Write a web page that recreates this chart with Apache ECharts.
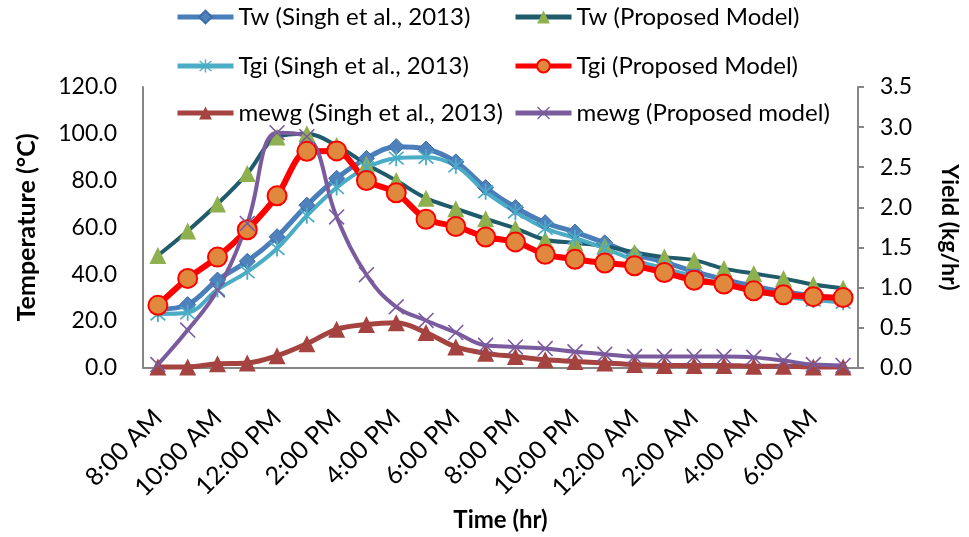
<!DOCTYPE html>
<html>
<head>
<meta charset="utf-8">
<script src="https://cdn.jsdelivr.net/npm/echarts@6/dist/echarts.min.js"></script>
<style>
html,body{margin:0;padding:0;background:#fff;}
#chart{width:969px;height:537px;}
</style>
</head>
<body>
<div id="chart"></div>
<script>
var categories = ["8:00 AM","9:00 AM","10:00 AM","11:00 AM","12:00 PM","1:00 PM","2:00 PM","3:00 PM","4:00 PM","5:00 PM","6:00 PM","7:00 PM","8:00 PM","9:00 PM","10:00 PM","11:00 PM","12:00 AM","1:00 AM","2:00 AM","3:00 AM","4:00 AM","5:00 AM","6:00 AM","7:00 AM"];

var twSingh = [25, 27, 37.5, 45.5, 56, 69.5, 81, 89.5, 94.5, 93.5, 88, 77, 68.5, 62, 58, 53.4, 48.5, 45.2, 41.1, 37.8, 34.9, 32.5, 30.8, 29.6];
var twProposed = [48, 58.5, 70, 83, 98.6, 100, 95, 87, 80, 72.5, 68, 63.7, 59.6, 54.7, 53.4, 52, 49.3, 47.3, 46, 42.4, 40.3, 38.2, 35.6, 34];
var tgiSingh = [23, 23.5, 33.5, 41, 51, 65, 77, 85.5, 89.6, 90, 86.3, 75.2, 66.6, 59.6, 55.5, 51, 46, 42.5, 39, 35.5, 32.5, 30.5, 29, 28];
var tgiProposed = [26.7, 38.2, 47.3, 59, 73.5, 92.5, 92.7, 80, 74.8, 63.5, 60.4, 55.9, 53.8, 48.5, 46.4, 44.8, 43.6, 40.7, 37.4, 35.8, 32.9, 31.2, 30.4, 30];
var mewgSingh = [0.01, 0.01, 0.05, 0.06, 0.15, 0.3, 0.48, 0.54, 0.56, 0.44, 0.26, 0.18, 0.14, 0.10, 0.08, 0.06, 0.04, 0.03, 0.03, 0.03, 0.02, 0.02, 0.01, 0.01];
var mewgProposed = [0.04, 0.47, 0.97, 1.8, 2.93, 2.88, 1.88, 1.16, 0.76, 0.59, 0.44, 0.28, 0.26, 0.24, 0.2, 0.17, 0.14, 0.14, 0.14, 0.14, 0.13, 0.09, 0.04, 0.03];

var seriesNames = ["Tw (Singh et al., 2013)", "Tw (Proposed Model)", "Tgi (Singh et al., 2013)", "Tgi (Proposed Model)", "mewg (Singh et al., 2013)", "mewg (Proposed model)"];
var tempTicks = {min: 0, max: 120, interval: 20};
var yieldTicks = {min: 0, max: 3.5, interval: 0.5};

var FONT = 'Lato';
var asterisk = 'path://M9,0H11V20H9Z M1.3,2.7L2.7,1.3L18.7,17.3L17.3,18.7Z M17.3,1.3L18.7,2.7L2.7,18.7L1.3,17.3Z';
var crossX = 'path://M0,1.4L1.4,0L20,18.6L18.6,20Z M18.6,0L20,1.4L1.4,20L0,18.6Z';

var chart = echarts.init(document.getElementById('chart'));

function legendAt(name, left, top) {
  return {
    data: [name], left: left, top: top, padding: 0,
    itemWidth: 56, itemHeight: 16,
    lineStyle: {width: 5},
    textStyle: {fontFamily: FONT, fontSize: 24, color: '#000'},
    selectedMode: false
  };
}

var option = {
  backgroundColor: '#fff',
  animation: false,
  textStyle: {fontFamily: FONT},
  legend: [
    legendAt(seriesNames[0], 175, 5),
    legendAt(seriesNames[1], 513, 5),
    legendAt(seriesNames[2], 175, 54),
    legendAt(seriesNames[3], 513, 54),
    legendAt(seriesNames[4], 175, 101),
    legendAt(seriesNames[5], 513, 101)
  ],
  grid: {left: 143, right: 100, top: 87, bottom: 156, containLabel: false},
  xAxis: {
    type: 'category',
    data: categories,
    boundaryGap: true,
    axisLine: {lineStyle: {color: '#868686', width: 2}},
    axisTick: {show: false},
    axisLabel: {interval: 1, rotate: 45, margin: 46, fontFamily: FONT, fontSize: 25, color: '#000'},
    name: 'Time (hr)',
    nameLocation: 'middle',
    nameGap: 139,
    nameTextStyle: {fontFamily: FONT, fontSize: 24, fontWeight: 'bold', color: '#000'}
  },
  yAxis: [
    {
      type: 'value', position: 'left',
      min: tempTicks.min, max: tempTicks.max, interval: tempTicks.interval,
      splitLine: {show: false},
      axisLine: {show: true, lineStyle: {color: '#868686', width: 2}},
      axisTick: {show: false},
      axisLabel: {margin: 26, fontFamily: FONT, fontSize: 23, color: '#000', formatter: function(v){return v.toFixed(1);}},
      name: 'Temperature (°C)',
      nameLocation: 'middle',
      nameGap: 104,
      nameTextStyle: {fontFamily: FONT, fontSize: 25, fontWeight: 'bold', color: '#000'}
    },
    {
      type: 'value', position: 'right',
      min: yieldTicks.min, max: yieldTicks.max, interval: yieldTicks.interval,
      splitLine: {show: false},
      axisLine: {show: true, lineStyle: {color: '#868686', width: 2}},
      axisTick: {show: true, length: 6, lineStyle: {color: '#868686', width: 2}},
      axisLabel: {margin: 22, fontFamily: FONT, fontSize: 23, color: '#000', formatter: function(v){return v.toFixed(1);}},
      name: 'Yield (kg/hr)',
      nameLocation: 'middle',
      nameRotate: -90,
      nameGap: 80,
      nameTextStyle: {fontFamily: FONT, fontSize: 23, fontWeight: 'bold', color: '#000'}
    }
  ],
  series: [
    {
      name: seriesNames[0], type: 'line', yAxisIndex: 0, data: twSingh, smooth: 0.35,
      symbol: 'diamond', symbolSize: 16,
      lineStyle: {color: '#4A7EBB', width: 5},
      itemStyle: {color: '#4F81BD', borderColor: '#3D6DA8', borderWidth: 1}
    },
    {
      name: seriesNames[1], type: 'line', yAxisIndex: 0, data: twProposed, smooth: 0.35,
      symbol: 'triangle', symbolSize: 17,
      lineStyle: {color: '#1F5B6A', width: 4},
      itemStyle: {color: '#8FB04E', borderColor: '#8FB04E', borderWidth: 0}
    },
    {
      name: seriesNames[2], type: 'line', yAxisIndex: 0, data: tgiSingh, smooth: 0.35,
      symbol: asterisk, symbolSize: 16,
      lineStyle: {color: '#4BACC6', width: 4},
      itemStyle: {color: '#4BACC6'}
    },
    {
      name: seriesNames[3], type: 'line', yAxisIndex: 0, data: tgiProposed, smooth: 0.3,
      symbol: 'circle', symbolSize: 19,
      lineStyle: {color: '#FF0000', width: 6},
      itemStyle: {color: '#E0883D', borderColor: '#FF0000', borderWidth: 2}
    },
    {
      name: seriesNames[4], type: 'line', yAxisIndex: 1, data: mewgSingh, smooth: 0.35,
      symbol: 'triangle', symbolSize: 17,
      lineStyle: {color: '#A4433F', width: 5},
      itemStyle: {color: '#A4433F'}
    },
    {
      name: seriesNames[5], type: 'line', yAxisIndex: 1, data: mewgProposed, smooth: 0.4,
      symbol: crossX, symbolSize: 16,
      lineStyle: {color: '#7A5C9E', width: 4},
      itemStyle: {color: '#7A5C9E'}
    }
  ]
};
chart.setOption(option);
</script>
</body>
</html>
